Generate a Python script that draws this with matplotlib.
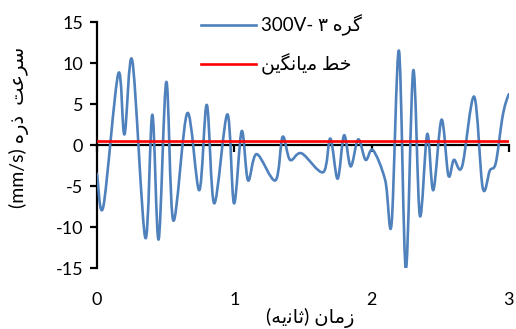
import matplotlib
matplotlib.use("Agg")
import matplotlib.pyplot as plt
from matplotlib.path import Path
from matplotlib.patches import PathPatch
from matplotlib.lines import Line2D
import numpy as np

plt.rcParams['font.family'] = ['Lato', 'DejaVu Sans']
plt.rcParams['axes.unicode_minus'] = False

# time (s) and particle velocity (mm/s)
zaman = [0.0, 0.046, 0.155, 0.20, 0.257, 0.352, 0.403, 0.449, 0.505, 0.556,
         0.658, 0.745, 0.80, 0.854, 0.95, 0.998, 1.054, 1.10, 1.163, 1.30,
         1.352, 1.406, 1.49, 1.648, 1.70, 1.753, 1.80, 1.848, 1.903, 1.957,
         2.01, 2.10, 2.146, 2.20, 2.25, 2.304, 2.352, 2.406, 2.45, 2.51,
         2.56, 2.60, 2.66, 2.748, 2.81, 2.862, 2.905, 2.95, 2.975, 3.0]
sorat = [-3.5, -7.5, 8.7, 1.3, 10.3, -11.3, 3.7, -11.5, 7.7, -9.2,
         3.9, -5.5, 4.9, -7.1, 3.75, -7.1, 1.7, -4.3, -1.1, -4.3,
         1.0, -1.8, -1.0, -3.3, 0.8, -4.1, 1.2, -2.6, 0.7, -1.8,
         -0.6, -4.3, -9.6, 11.5, -15.1, 9.1, -8.6, 1.35, -5.5, 3.1,
         -3.7, -1.8, -2.6, 5.9, -5.2, -3.1, -2.2, 3.0, 5.0, 6.2]
miangin_x = [0, 3]
miangin_y = [0.45, 0.45]

# labels (visual order, presentation forms since matplotlib has no shaping)
lbl_seri = "300V- \u06F3 " + "\uFEE9\uFEAE\uFB94"
lbl_miangin = "\uFEE6\uFBFE\uFB95\uFEE7\uFE8E\uFBFE\uFEE3 \uFEC2\uFEA7"
lbl_x = "(" + "\uFEEA\uFBFE\uFEE7\uFE8E\uFE9B" + ") \uFEE5\uFE8E\uFEE3\uFEAF"
lbl_y = "(mm/s) \uFEE9\uFEAD\uFEAB  \uFE96\uFECB\uFEAE\uFEB3"

blue = '#4F81BD'
red = '#FF0000'


def smooth_path(x, y):
    # excel style smoothed line: bezier through the points
    p = np.column_stack([x, y])
    n = len(p)
    verts = [p[0]]
    codes = [Path.MOVETO]
    for i in range(n - 1):
        p0 = p[max(i - 1, 0)]
        p1 = p[i]
        p2 = p[i + 1]
        p3 = p[min(i + 2, n - 1)]
        c1 = p1 + (p2 - p0) / 6
        c2 = p2 - (p3 - p1) / 6
        verts += [c1, c2, p2]
        codes += [Path.CURVE4] * 3
    return Path(verts, codes)


fig = plt.figure(figsize=(5.16, 3.29), dpi=100)
ax = fig.add_axes([0.188, 0.185, 0.798, 0.748])

ax.add_patch(PathPatch(smooth_path(zaman, sorat), fill=False, edgecolor=blue,
                       lw=1.9, capstyle='round', joinstyle='round', zorder=3))
ax.plot(miangin_x, miangin_y, color=red, lw=1.9, zorder=4)

ax.set_xlim(0, 3)
ax.set_ylim(-15, 15)
ax.set_xticks([0, 1, 2, 3])
ax.set_yticks([-15, -10, -5, 0, 5, 10, 15])

for s in ['top', 'right']:
    ax.spines[s].set_visible(False)
ax.spines['bottom'].set_position(('data', 0))
ax.spines['left'].set_linewidth(1.6)
ax.spines['bottom'].set_linewidth(1.6)
ax.tick_params(axis='y', length=5, width=1.6, pad=5, labelsize=13)
ax.tick_params(axis='x', length=5, width=1.6, pad=101, labelsize=13)

ax.set_xlabel(lbl_x, fontsize=14, labelpad=0)
ax.xaxis.set_label_coords(0.517, -0.16)
ax.set_ylabel(lbl_y, fontsize=14)
ax.yaxis.set_label_coords(-0.165, 0.57)

handles = [Line2D([], [], color=blue, lw=1.9), Line2D([], [], color=red, lw=1.9)]
ax.legend(handles, [lbl_seri, lbl_miangin], loc='upper left',
          bbox_to_anchor=(0.212, 1.1), frameon=False, fontsize=13.5,
          handlelength=2.9, handletextpad=0.3, labelspacing=0.95)

fig.savefig('out.png', dpi=100)
